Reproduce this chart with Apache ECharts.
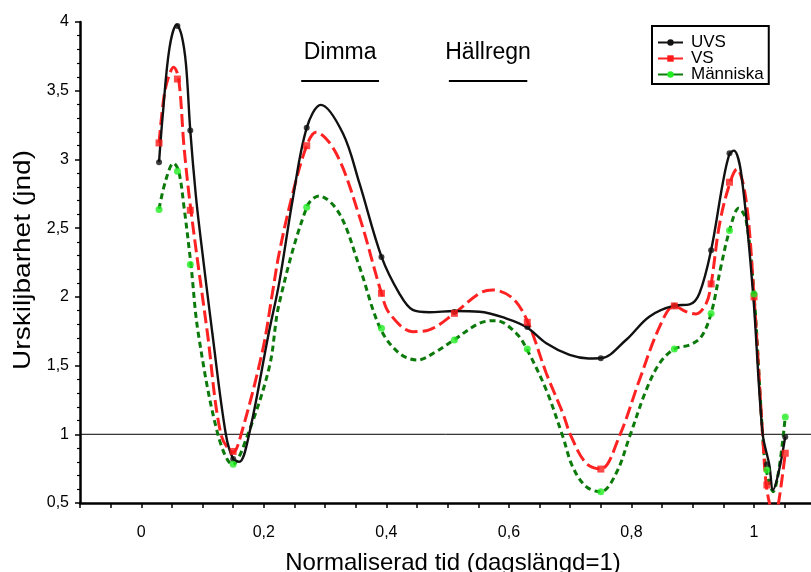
<!DOCTYPE html>
<html>
<head>
<meta charset="utf-8">
<script src="https://cdn.jsdelivr.net/npm/echarts@6/dist/echarts.min.js"></script>
<style>
html,body{margin:0;padding:0;background:#fff;}
#main{width:811px;height:572px;}
</style>
</head>
<body>
<div id="main"></div>
<script>
// ---------- DATA ----------
const seriesNames = ['UVS', 'VS', 'Människa'];

// measured points (markers)
const markerX = [0.029, 0.059, 0.080, 0.150, 0.270, 0.392, 0.511, 0.630, 0.750, 0.870, 0.930, 0.960, 1.000, 1.021, 1.051];
const uvsMarks = [2.98, 3.97, 3.21, 0.82, 3.23, 2.29, 1.89, 1.78, 1.553, 1.935, 2.34, 3.045, 2.02, 0.78, 0.98];
const vsMarks = [3.12, 3.585, 2.63, 0.875, 3.10, 2.026, 1.88, 1.815, 0.747, 1.934, 2.094, 2.834, 2.0, 0.631, 0.862];
const manMarks = [2.635, 2.914, 2.235, 0.782, 2.652, 1.771, 1.686, 1.621, 0.582, 1.621, 1.878, 2.482, 2.02, 0.74, 1.126];

// smoothed curves
const uvsCurve = [[0.029,2.98],[0.035,3.32],[0.046,3.81],[0.058,3.98],[0.066,3.90],[0.073,3.69],[0.080,3.21],[0.089,2.74],[0.096,2.46],[0.116,1.735],[0.138,1.0],[0.150,0.82],[0.160,0.80],[0.176,1.0],[0.208,1.735],[0.225,2.1],[0.247,2.705],[0.270,3.23],[0.293,3.397],[0.329,3.19],[0.356,2.827],[0.392,2.293],[0.421,2.026],[0.443,1.905],[0.470,1.888],[0.511,1.897],[0.552,1.892],[0.595,1.844],[0.629,1.779],[0.661,1.662],[0.699,1.577],[0.730,1.552],[0.750,1.553],[0.791,1.686],[0.829,1.856],[0.870,1.936],[0.895,1.945],[0.911,2.026],[0.930,2.34],[0.949,2.827],[0.960,3.04],[0.967,3.064],[0.979,2.9],[0.998,2.05],[1.014,1.007],[1.025,0.777],[1.031,0.595],[1.040,0.72],[1.051,0.983]];
const vsCurve = [[0.029,3.12],[0.0375,3.47],[0.046,3.62],[0.0527,3.67],[0.061,3.586],[0.070,3.08],[0.081,2.63],[0.108,1.735],[0.130,1.0],[0.150,0.87],[0.163,1.0],[0.198,1.61],[0.214,2.026],[0.225,2.317],[0.247,2.75],[0.270,3.10],[0.285,3.198],[0.318,3.045],[0.356,2.584],[0.392,2.026],[0.405,1.88],[0.443,1.747],[0.470,1.76],[0.511,1.88],[0.552,2.026],[0.573,2.05],[0.606,1.99],[0.631,1.815],[0.661,1.444],[0.688,1.153],[0.701,0.99],[0.726,0.789],[0.750,0.747],[0.780,0.983],[0.813,1.395],[0.846,1.783],[0.870,1.934],[0.889,1.892],[0.905,1.876],[0.922,1.953],[0.930,2.094],[0.944,2.536],[0.961,2.834],[0.972,2.93],[0.987,2.705],[1.000,2.0],[1.014,1.0],[1.020,0.631],[1.028,0.45],[1.034,0.40],[1.040,0.50],[1.051,0.862]];
const manCurve = [[0.029,2.64],[0.040,2.85],[0.0527,2.972],[0.061,2.916],[0.070,2.645],[0.081,2.237],[0.093,1.735],[0.125,1.0],[0.149,0.78],[0.174,1.0],[0.209,1.49],[0.225,1.95],[0.270,2.652],[0.290,2.734],[0.323,2.608],[0.356,2.22],[0.390,1.771],[0.421,1.59],[0.451,1.541],[0.481,1.601],[0.510,1.686],[0.552,1.808],[0.579,1.827],[0.612,1.735],[0.629,1.621],[0.661,1.322],[0.688,0.983],[0.704,0.764],[0.726,0.619],[0.750,0.582],[0.775,0.716],[0.797,0.983],[0.824,1.322],[0.846,1.517],[0.870,1.621],[0.895,1.65],[0.914,1.71],[0.930,1.88],[0.946,2.22],[0.960,2.482],[0.975,2.645],[0.987,2.56],[1.000,2.02],[1.014,1.0],[1.020,0.74],[1.031,0.582],[1.051,1.128]];

// reference level and weather periods
const refLevel = 1;
const periodNames = ['Dimma', 'Hällregn'];
const periodStart = [0.261, 0.502];
const periodEnd = [0.388, 0.630];
const periodLevel = 3.571;

// tick labels
const xTickValues = [0, 0.2, 0.4, 0.6, 0.8, 1];
const xTickLabels = ['0', '0,2', '0,4', '0,6', '0,8', '1'];
const yTickValues = [0.5, 1, 1.5, 2, 2.5, 3, 3.5, 4];
const yTickLabels = ['0,5', '1', '1,5', '2', '2,5', '3', '3,5', '4'];

// ---------- CHART ----------
const FONT = '"Liberation Sans", Arial, sans-serif';
function lookup(vals, labels, v) {
  const i = vals.findIndex(t => Math.abs(t - v) < 1e-6);
  return i >= 0 ? labels[i] : '';
}
function pairs(xs, ys) { return xs.map((x, i) => [x, ys[i]]); }

const chart = echarts.init(document.getElementById('main'), null, {renderer: 'canvas'});

const option = {
  backgroundColor: '#fff',
  animation: false,
  grid: {left: 80, top: 22, right: 0, bottom: 69, containLabel: false},
  xAxis: {
    type: 'value', min: -0.1, max: 1.093, interval: 0.05,
    axisLine: {show: true, onZero: false, lineStyle: {color: '#000', width: 2.5}},
    axisTick: {show: true, length: 5, lineStyle: {color: '#000', width: 1.5}},
    axisLabel: {margin: 22, fontSize: 16, color: '#000', fontFamily: FONT,
      showMaxLabel: false,
      formatter: v => lookup(xTickValues, xTickLabels, v)},
    splitLine: {show: false}
  },
  yAxis: {
    type: 'value', min: 0.5, max: 4, interval: 0.5,
    axisLine: {show: true, onZero: false, lineStyle: {color: '#000', width: 2.5}},
    axisTick: {show: true, length: 5, lineStyle: {color: '#000', width: 1.5}},
    minorTick: {show: true, splitNumber: 5, length: 3, lineStyle: {color: '#000', width: 1.2}},
    axisLabel: {margin: 11, fontSize: 16, color: '#000', fontFamily: FONT,
      formatter: v => lookup(yTickValues, yTickLabels, v)},
    splitLine: {show: false}
  },
  legend: {
    data: seriesNames,
    orient: 'vertical', left: 652, top: 26,
    padding: [8, 5, 1, 5],
    itemWidth: 25, itemHeight: 8, itemGap: -1,
    borderColor: '#000', borderWidth: 2, borderRadius: 0,
    backgroundColor: '#fff',
    textStyle: {fontSize: 17, lineHeight: 15, color: '#000', fontFamily: FONT, padding: [0, 0, 0, 3]},
    lineStyle: {type: 'solid', width: 2}
  },
  series: [
    {
      name: 'ref', type: 'line', data: [[-0.1, refLevel], [1.093, refLevel]],
      symbol: 'none', lineStyle: {color: '#000', width: 1}, silent: true, z: 1,
      markLine: {
        silent: true, symbol: 'none',
        lineStyle: {color: '#000', width: 1.8, type: 'solid'},
        label: {show: true, position: 'middle', distance: 17, fontSize: 23, color: '#000', fontFamily: FONT,
          formatter: p => p.name},
        data: periodNames.map((n, i) => [
          {name: n, coord: [periodStart[i], periodLevel]},
          {coord: [periodEnd[i], periodLevel]}
        ])
      }
    },
    {
      name: 'UVS', type: 'line', data: uvsCurve, smooth: 0.35,
      symbol: 'circle', symbolSize: 6, showSymbol: false,
      lineStyle: {color: '#111', width: 2.4},
      itemStyle: {color: '#111'}, z: 4
    },
    {
      name: 'VS', type: 'line', data: vsCurve, smooth: 0.35,
      symbol: 'rect', symbolSize: 7, showSymbol: false,
      lineStyle: {color: '#ff2222', width: 3, type: [13, 5]},
      itemStyle: {color: '#ff1a1a'}, z: 3
    },
    {
      name: 'Människa', type: 'line', data: manCurve, smooth: 0.35,
      symbol: 'circle', symbolSize: 7, showSymbol: false,
      lineStyle: {color: '#0b7a0b', width: 3, type: [6, 4]},
      itemStyle: {color: '#22ee22'}, z: 2
    },
    {
      name: 'UVS-m', type: 'scatter', data: pairs(markerX, uvsMarks),
      symbol: 'circle', symbolSize: 6, itemStyle: {color: '#111'}, z: 6
    },
    {
      name: 'VS-m', type: 'scatter', data: pairs(markerX, vsMarks),
      symbol: 'rect', symbolSize: 7, itemStyle: {color: '#ff1a1a'}, z: 7
    },
    {
      name: 'Människa-m', type: 'scatter', data: pairs(markerX, manMarks),
      symbol: 'circle', symbolSize: 7, itemStyle: {color: '#22ee22'}, z: 8
    }
  ],
  graphic: [
    {
      type: 'text', x: 23, y: 260, rotation: Math.PI / 2, scaleX: 1.146,
      style: {text: 'Urskiljbarhet (jnd)', font: '24.5px ' + FONT, fill: '#000',
        textAlign: 'center', textVerticalAlign: 'middle', align: 'center', verticalAlign: 'middle'}
    },
    {
      type: 'text', x: 453, y: 563,
      style: {text: 'Normaliserad tid (dagslängd=1)', font: '24px ' + FONT, fill: '#000',
        textAlign: 'center', textVerticalAlign: 'middle', align: 'center', verticalAlign: 'middle'}
    }
  ]
};
chart.setOption(option);
</script>
</body>
</html>
